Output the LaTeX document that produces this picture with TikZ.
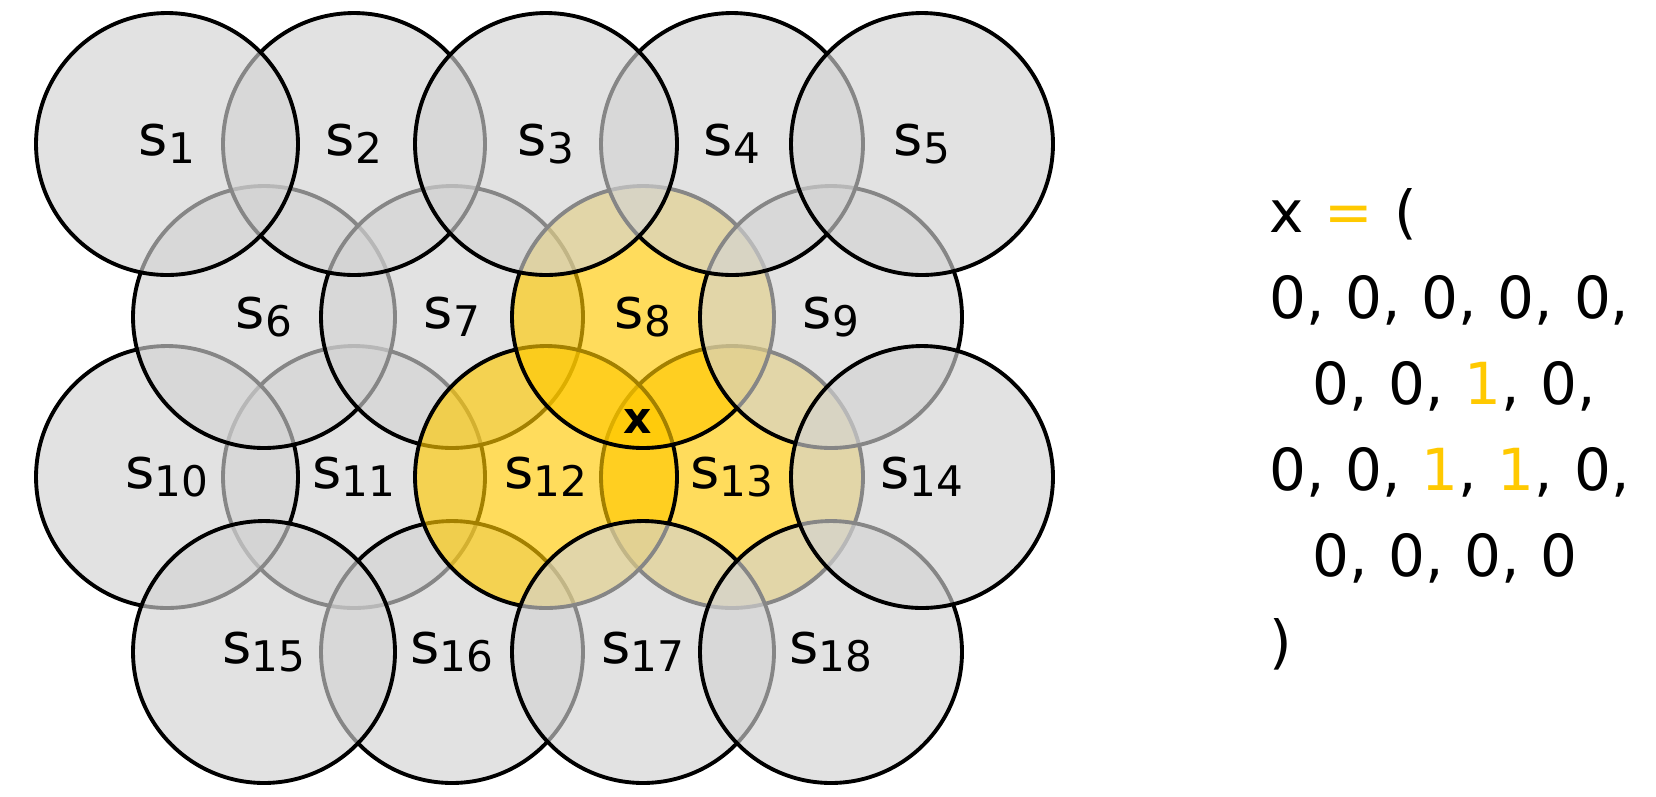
\documentclass[tikz,border=0pt]{standalone}
\usepackage{fontspec}
\setmainfont{DejaVu Sans}
\definecolor{setgray}{RGB}{211,211,211}
\definecolor{setyellow}{RGB}{255,201,0}
\newcommand\setlbl[1]{s\raisebox{-0.16cm}{\fontsize{24}{24}\selectfont #1}}
\newcommand\vecfont{\fontsize{33}{38}\selectfont\spaceskip 0.36em\relax}

\begin{document}
\begin{tikzpicture}[
  x=0.02cm, y=-0.02cm,
  font=\fontsize{32}{38}\selectfont,
  disc/.style={draw=black, circle, line width=2.2pt, fill=setgray, fill opacity=0.64, text opacity=1, minimum size=5.24cm, inner sep=0pt},
  hit/.style={disc, fill=setyellow},
  vec/.style={anchor=base west, inner sep=0pt, font=\vecfont},
]
\fill[white] (0,0) rectangle (1656,796);
\useasboundingbox (0,0) rectangle (1656,796);

% Sets, drawn from the lowest to the top one
\foreach \i/\x/\y/\kind in {11/354/477/disc, 13/732/477/hit, 10/167/477/disc,
    6/264/317/disc, 7/452/317/disc, 16/452/652/disc, 12/546/477/hit,
    8/643/317/hit, 9/831/317/disc, 15/264/652/disc, 17/643/652/disc,
    18/831/652/disc, 14/922/477/disc, 2/354/144/disc, 4/732/144/disc,
    1/167/144/disc, 3/546/144/disc, 5/922/144/disc}
  \node[\kind] (s\i) at (\x,\y) {\setlbl{\i}};

% The point x
\node[font=\fontsize{25}{25}\selectfont\bfseries] (pt) at (638,421) {x};

% Vector on the right
\node[vec] (lx) at (1269,232) {x \textcolor{setyellow}{=} (};
\node[vec] (l1) at (1269,318) {0, 0, 0, 0, 0,};
\node[vec] (l2) at (1312,404) {0, 0, \textcolor{setyellow}{1}, 0,};
\node[vec] (l3) at (1269,490) {0, 0, \textcolor{setyellow}{1}, \textcolor{setyellow}{1}, 0,};
\node[vec] (l4) at (1312,576) {0, 0, 0, 0};
\node[vec] (lr) at (1269,662) {)};

\end{tikzpicture}
\end{document}
